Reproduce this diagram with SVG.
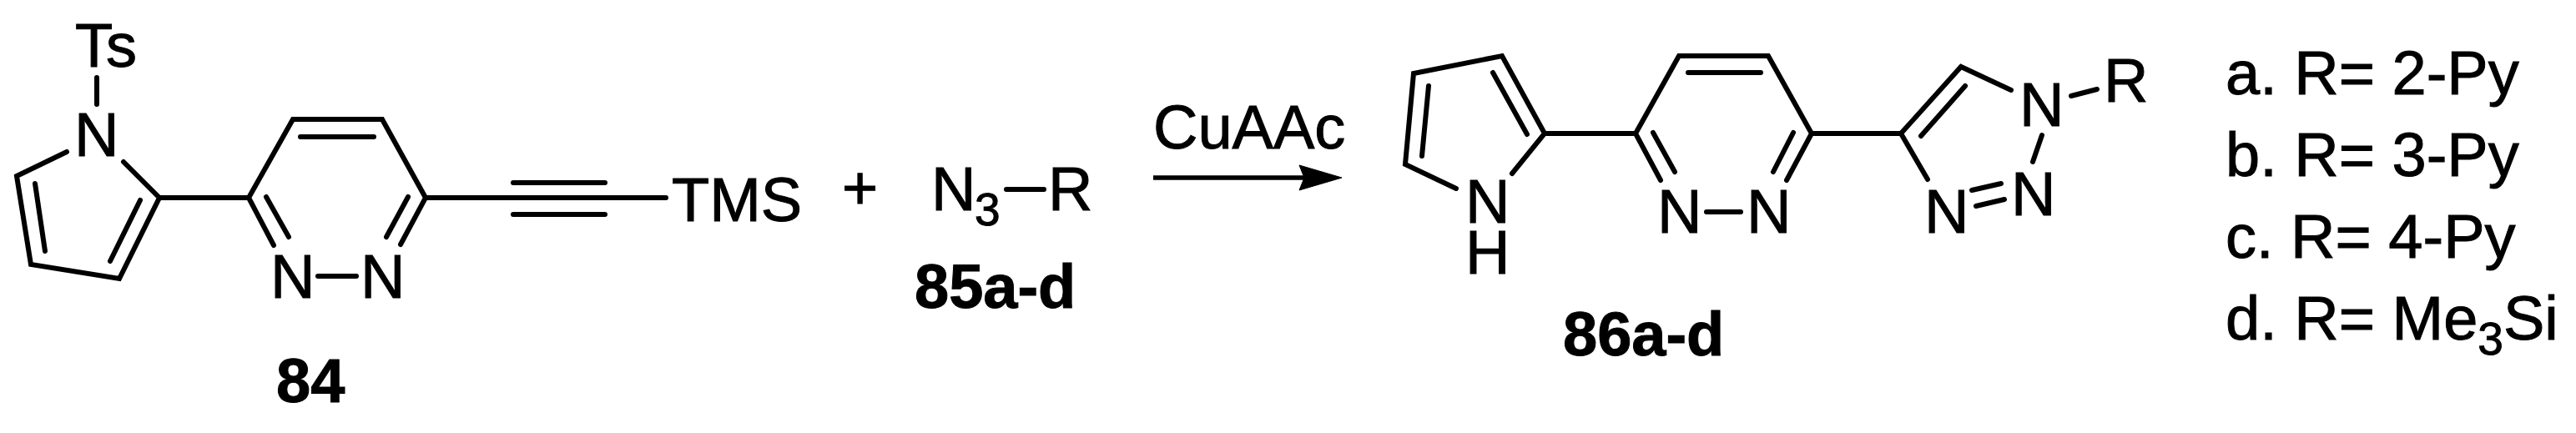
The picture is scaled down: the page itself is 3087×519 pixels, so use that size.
<svg xmlns="http://www.w3.org/2000/svg" width="3087" height="519" viewBox="0 0 3087 519">
<style>
text{font-family:"Liberation Sans",Arial,sans-serif;font-size:74px;fill:#000;stroke:#000;stroke-width:1}
.b{font-weight:bold}
.s{font-size:55px}
.bond{fill:none;stroke:#000;stroke-width:6;stroke-linecap:round;stroke-linejoin:miter}
</style>
<rect width="3087" height="519" fill="#fff"/>
<g id="compound-84">
<path class="bond" d="M116 93V125M80 182L20 211L37 317L143 334L191 237L148 194M42 220L54 301M168 240L132 313M191 237H298M328 294L298 237L351 143H458L510 237L480 293M360 164H448M319 236L346 284M489 236L463 284M381 331H427M510 237H798M615 219H725M615 257H725"/>
<text x="90" y="80">Ts</text>
<text x="89" y="187">N</text>
<text x="324" y="357">N</text>
<text x="432" y="357">N</text>
<text x="805" y="265">TMS</text>
<text class="b" x="331" y="482">84</text>
</g>
<g id="plus"><text x="1009" y="251">+</text></g>
<g id="compound-85">
<path class="bond" d="M1206 227H1251"/>
<text x="1116" y="252">N</text>
<text class="s" x="1168" y="270">3</text>
<text x="1256" y="252">R</text>
<text class="b" x="1096" y="369">85a-d</text>
</g>
<g id="connectors">
<path d="M1382 213H1565" stroke="#000" stroke-width="5.5" fill="none"/>
<path d="M1557 198L1608 213L1557 228L1563 213Z" fill="#000" stroke="#000" stroke-width="1"/>
</g>
<g id="conditions"><text x="1382" y="178">CuAAc</text></g>
<g id="compound-86">
<path class="bond" d="M1745 226L1684 197L1694 88L1800 67L1851 160L1812 208M1712 103L1704 187M1789 87L1830 161M1851 160H1960M1990 216L1960 160L2012 67H2119L2171 160L2141 216M2023 87H2110M1981 159L2007 206M2149 159L2125 206M2045 254H2086M2171 160H2278M2310 215L2278 160L2350 80L2410 108M2355 103L2302 163M2482 115L2513 107M2447 162L2436 194M2363 228L2398 220M2368 247L2402 239"/>
<text x="1756" y="267">N</text>
<text x="1756" y="328">H</text>
<text x="1986" y="279">N</text>
<text x="2093" y="279">N</text>
<text x="2306" y="279">N</text>
<text x="2410" y="258">N</text>
<text x="2420" y="151">N</text>
<text x="2521" y="122">R</text>
<text class="b" x="1873" y="426">86a-d</text>
</g>
<g id="legend">
<text x="2667" y="113">a. R= 2-Py</text>
<text x="2667" y="211">b. R= 3-Py</text>
<text x="2667" y="309">c. R= 4-Py</text>
<text x="2667" y="407">d. R= Me<tspan class="s" dy="18">3</tspan><tspan dy="-18">Si</tspan></text>
</g>
</svg>
